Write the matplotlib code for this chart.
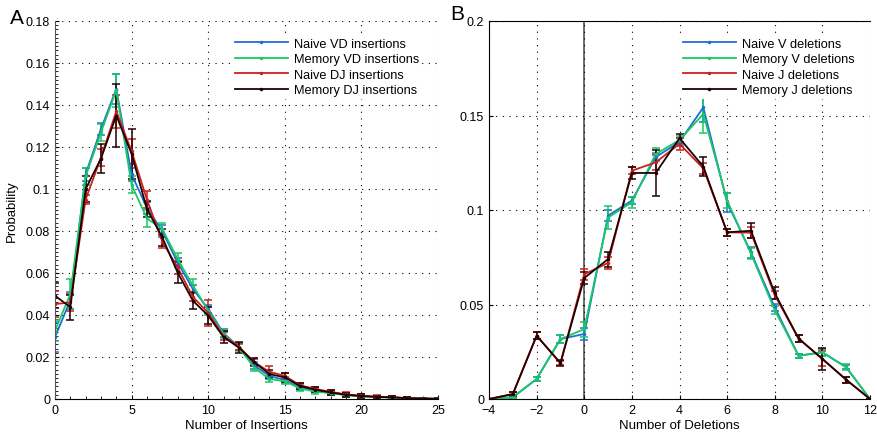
import numpy as np
import matplotlib
matplotlib.use("Agg")
import matplotlib.pyplot as plt
from matplotlib.ticker import MultipleLocator, FormatStrFormatter

plt.rcParams['font.family'] = ['Liberation Sans', 'DejaVu Sans']

# %% Insertions (panel A)
ins_x = np.arange(0, 26)
naive_vd = [0.0295, 0.047, 0.107, 0.1286, 0.1476, 0.107, 0.091, 0.080, 0.065, 0.0524, 0.0429, 0.0314, 0.0248,
            0.016, 0.011, 0.009, 0.0055, 0.0042, 0.003, 0.002, 0.0014, 0.001, 0.0007, 0.0004, 0.0002, 0.0001]
memory_vd = [0.0325, 0.050, 0.106, 0.127, 0.147, 0.102, 0.086, 0.081, 0.0667, 0.054, 0.042, 0.031, 0.0245,
             0.015, 0.0095, 0.0085, 0.005, 0.0035, 0.0028, 0.0018, 0.0012, 0.0009, 0.0006, 0.0003, 0.0002, 0.0001]
naive_dj = [0.0452, 0.046, 0.095, 0.115, 0.137, 0.118, 0.095, 0.075, 0.0627, 0.0486, 0.041, 0.030, 0.025,
            0.0175, 0.013, 0.011, 0.0065, 0.0048, 0.0034, 0.0022, 0.0016, 0.0011, 0.0009, 0.0004, 0.0002, 0.0001]
memory_dj = [0.0492, 0.0437, 0.100, 0.1145, 0.135, 0.1167, 0.0905, 0.077, 0.0603, 0.0468, 0.0397, 0.0295, 0.0245,
             0.0175, 0.0119, 0.0103, 0.0062, 0.0044, 0.0031, 0.002, 0.0014, 0.001, 0.0008, 0.0004, 0.0002, 0.0001]

err_naive_vd = [0.007, 0.004, 0.003, 0.003, 0.007, 0.003, 0.003, 0.003, 0.002, 0.002, 0.002, 0.002, 0.0015,
                0.0015, 0.0015, 0.0015, 0.001, 0.001, 0.001, 0.001, 0.0008, 0.0006, 0.0005, 0.0004, 0.0003, 0.0002]
err_memory_vd = [0.005, 0.007, 0.004, 0.004, 0.008, 0.004, 0.004, 0.003, 0.003, 0.003, 0.002, 0.002, 0.0015,
                 0.0015, 0.0015, 0.0015, 0.001, 0.001, 0.001, 0.001, 0.0008, 0.0006, 0.0005, 0.0004, 0.0003, 0.0002]
err_naive_dj = [0.006, 0.004, 0.002, 0.004, 0.008, 0.006, 0.004, 0.003, 0.003, 0.002, 0.006, 0.002, 0.0015,
                0.0015, 0.0025, 0.0015, 0.001, 0.001, 0.001, 0.001, 0.0008, 0.0006, 0.0005, 0.0004, 0.0003, 0.0002]
err_memory_dj = [0.006, 0.006, 0.006, 0.007, 0.015, 0.012, 0.004, 0.004, 0.005, 0.004, 0.004, 0.003, 0.0025,
                 0.002, 0.002, 0.002, 0.0015, 0.0012, 0.001, 0.001, 0.0008, 0.0006, 0.0005, 0.0004, 0.0003, 0.0002]

# %% Deletions (panel B)
del_x = np.arange(-4, 13)
naive_v = [0, 0.0009, 0.0106, 0.0317, 0.0344, 0.097, 0.105, 0.128, 0.136, 0.1543, 0.104, 0.0776, 0.0485,
           0.0229, 0.0247, 0.0168, 0]
memory_v = [0, 0.0009, 0.0106, 0.0317, 0.0370, 0.096, 0.1041, 0.1296, 0.137, 0.1508, 0.105, 0.077, 0.047,
            0.0229, 0.0247, 0.0168, 0]
naive_j = [0, 0.0026, 0.0335, 0.019, 0.066, 0.072, 0.1208, 0.1252, 0.135, 0.122, 0.0882, 0.088, 0.055,
           0.032, 0.0212, 0.0102, 0]
memory_j = [0, 0.0026, 0.0335, 0.019, 0.064, 0.074, 0.1196, 0.1196, 0.138, 0.123, 0.0882, 0.089, 0.056,
            0.032, 0.0212, 0.0102, 0]

err_naive_v = [0, 0.0005, 0.001, 0.002, 0.003, 0.003, 0.002, 0.002, 0.002, 0.008, 0.005, 0.003, 0.002,
               0.001, 0.002, 0.001, 0]
err_memory_v = [0, 0.0005, 0.001, 0.002, 0.004, 0.006, 0.003, 0.003, 0.002, 0.010, 0.004, 0.003, 0.002,
                0.001, 0.002, 0.0015, 0]
err_naive_j = [0, 0.001, 0.002, 0.001, 0.003, 0.003, 0.002, 0.004, 0.003, 0.003, 0.002, 0.003, 0.002,
               0.002, 0.004, 0.0015, 0]
err_memory_j = [0, 0.001, 0.002, 0.0015, 0.003, 0.004, 0.003, 0.012, 0.002, 0.005, 0.002, 0.004, 0.003,
                0.002, 0.006, 0.0015, 0]

colors = ['#1f6fd0', '#18c866', '#cc1f1f', '#220000']


def draw(ax, x, series, errors, labels, legend_x):
    handles = []
    for y, e, c in zip(series, errors, colors):
        cont = ax.errorbar(x, y, yerr=e, color=c, ecolor=c, lw=1.3, elinewidth=1.1,
                           capsize=2.8, capthick=1.1, marker='.', ms=3)
        handles.append(cont[0])
    ax.legend(handles, labels, loc='upper left', bbox_to_anchor=(legend_x / 878, 1 - 36 / 439),
              bbox_transform=ax.figure.transFigure, fontsize=9.2,
              handlelength=4.2, handletextpad=0.45, labelspacing=0.28, frameon=True,
              facecolor='white', edgecolor='none', framealpha=1, borderpad=0.2, borderaxespad=0)
    ax.grid(True, linestyle=(0, (1, 5)), color='black', lw=0.8)
    ax.tick_params(direction='in', labelsize=9, length=3, width=0.8)
    ax.yaxis.set_major_formatter(FormatStrFormatter('%g'))


fig = plt.figure(figsize=(8.78, 4.39), dpi=100)

# panel A
axA = fig.add_axes([55 / 878, 39 / 439, 383 / 878, 378 / 439])
draw(axA, ins_x, [naive_vd, memory_vd, naive_dj, memory_dj],
     [err_naive_vd, err_memory_vd, err_naive_dj, err_memory_dj],
     ['Naive VD insertions', 'Memory VD insertions', 'Naive DJ insertions', 'Memory DJ insertions'], 232)
axA.set_xlim(0, 25)
axA.set_ylim(0, 0.18)
axA.xaxis.set_major_locator(MultipleLocator(5))
axA.yaxis.set_major_locator(MultipleLocator(0.02))
axA.xaxis.set_minor_locator(MultipleLocator(1))
axA.yaxis.set_minor_locator(MultipleLocator(0.002))
axA.tick_params(which='minor', direction='in', length=2, width=0.6)
axA.spines['top'].set_visible(False)
axA.spines['right'].set_visible(False)
axA.spines['left'].set_color('#555555')
axA.set_xlabel('Number of Insertions', fontsize=9.5, labelpad=2)
axA.set_ylabel('Probability', fontsize=9.5, labelpad=6)

# panel B
axB = fig.add_axes([489 / 878, 39 / 439, 381 / 878, 378 / 439])
axB.axvline(0, color='#555555', lw=1.2, zorder=1)
draw(axB, del_x, [naive_v, memory_v, naive_j, memory_j],
     [err_naive_v, err_memory_v, err_naive_j, err_memory_j],
     ['Naive V deletions', 'Memory V deletions', 'Naive J deletions', 'Memory J deletions'], 680)
axB.set_xlim(-4, 12)
axB.set_ylim(0, 0.2)
axB.xaxis.set_major_locator(MultipleLocator(2))
axB.yaxis.set_major_locator(MultipleLocator(0.05))
axB.spines['right'].set_visible(False)
axB.set_xlabel('Number of Deletions', fontsize=9.5, labelpad=2)

fig.text(10 / 878, 1 - 18 / 439, 'A', fontsize=15, va='center')
fig.text(450 / 878, 1 - 14 / 439, 'B', fontsize=15, va='center')

fig.savefig('out.png', dpi=100)
